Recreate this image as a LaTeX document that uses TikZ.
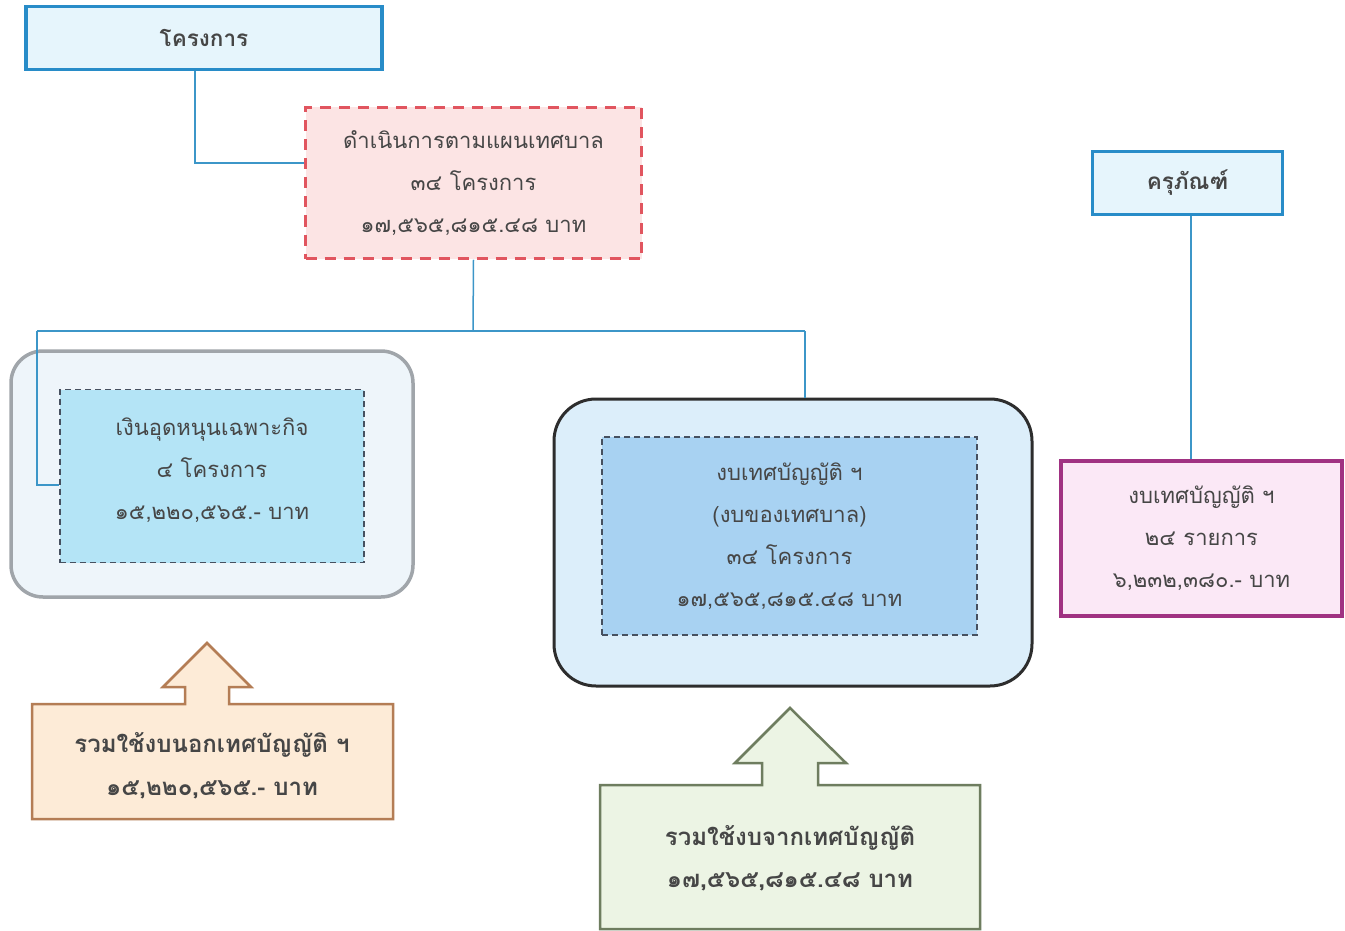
\documentclass[tikz,border=0pt]{standalone}
\usepackage{fontspec}
\newfontfamily\thai[Script=Thai]{Loma}
\definecolor{bblue}{RGB}{40,140,200}
\definecolor{lblue}{RGB}{230,245,252}
\definecolor{conn}{RGB}{60,150,200}
\definecolor{pinkb}{RGB}{225,85,95}
\definecolor{pinkf}{RGB}{252,228,228}
\definecolor{grayb}{RGB}{160,165,170}
\definecolor{grayf}{RGB}{238,245,250}
\definecolor{in1f}{RGB}{180,228,246}
\definecolor{dashb}{RGB}{70,80,95}
\definecolor{blkb}{RGB}{45,45,45}
\definecolor{out2f}{RGB}{220,238,250}
\definecolor{in2f}{RGB}{168,210,242}
\definecolor{magb}{RGB}{160,50,130}
\definecolor{magf}{RGB}{251,232,246}
\definecolor{orb}{RGB}{180,125,85}
\definecolor{orf}{RGB}{253,235,215}
\definecolor{grb}{RGB}{110,125,95}
\definecolor{grf}{RGB}{236,244,228}
\definecolor{txt}{RGB}{70,70,70}
\tikzset{
  box/.style={rectangle, inner sep=0pt, align=center, text=txt,
    font=\thai\fontsize{22}{28}\selectfont},
  titlebox/.style={box, draw=bblue, fill=lblue, line width=3.5pt,
    font=\thai\bfseries\fontsize{22.5}{26}\selectfont},
  plandash/.style={box, draw=pinkb, fill=pinkf, line width=2.5pt,
    dash pattern=on 11pt off 8pt},
  innerdash/.style={box, draw=dashb, line width=1.3pt, dash pattern=on 6pt off 4pt},
  roundbox/.style={rectangle, rounded corners=32pt, line width=3.5pt},
  conline/.style={draw=conn, line width=1.5pt},
  bigarrow/.style={line width=2.5pt, line join=miter},
  lbl/.style={inner sep=0pt, text=txt, font=\thai\bfseries\fontsize{24}{28}\selectfont}
}
\begin{document}
\begin{tikzpicture}[x=1pt,y=-1pt]
\useasboundingbox[fill=white] (0,0) rectangle (1345,931);
% top boxes
\node[titlebox, minimum width=356pt, minimum height=63pt] (proj) at (204,38) {โครงการ};
\node[plandash, minimum width=336pt, minimum height=151pt] (plan) at (473.5,183)
  {ดำเนินการตามแผนเทศบาล\\[14pt]๓๔ โครงการ\\[14pt]๑๗,๕๖๕,๘๑๕.๔๘ บาท};
\node[titlebox, minimum width=190pt, minimum height=63pt] (equip) at (1187.5,183) {ครุภัณฑ์};
% left rounded group
\node[roundbox, draw=grayb, fill=grayf, minimum width=402pt, minimum height=246pt] (out1) at (212,474) {};
\node[innerdash, fill=in1f, minimum width=304pt, minimum height=173pt] (in1) at (212,476) {};
\node[box] (in1t) at (212,470)
  {เงินอุดหนุนเฉพาะกิจ\\[14pt]๔ โครงการ\\[14pt]๑๕,๒๒๐,๕๖๕.- บาท};
% middle rounded group
\node[roundbox, rounded corners=42pt, draw=blkb, line width=3pt, fill=out2f, minimum width=478pt, minimum height=287pt] (out2) at (793,542.5) {};
\node[innerdash, fill=in2f, minimum width=375pt, minimum height=198pt] (in2) at (789.5,536)
  {งบเทศบัญญัติ ฯ\\[14pt](งบของเทศบาล)\\[14pt]๓๔ โครงการ\\[14pt]๑๗,๕๖๕,๘๑๕.๔๘ บาท};
% magenta box
\node[box, draw=magb, fill=magf, line width=4pt, minimum width=281pt, minimum height=155pt] (mag) at (1201.5,538.5)
  {งบเทศบัญญัติ ฯ\\[14pt]๒๔ รายการ\\[14pt]๖,๒๓๒,๓๘๐.- บาท};
% orange arrow box
\draw[bigarrow, draw=orb, fill=orf]
  (32,704) -- (185,704) -- (185,687) -- (163,687) -- (207,643) -- (251,687) -- (229,687) -- (229,704)
  -- (393,704) -- (393,819) -- (32,819) -- cycle;
\node[lbl] (sum1a) at (212,745) {รวมใช้งบนอกเทศบัญญัติ ฯ};
\node[lbl] (sum1b) at (212,790) {๑๕,๒๒๐,๕๖๕.- บาท};
% green arrow box
\draw[bigarrow, draw=grb, fill=grf]
  (600,785) -- (762,785) -- (762,763) -- (735,763) -- (790,708) -- (846,763) -- (818,763) -- (818,785)
  -- (980,785) -- (980,929) -- (600,929) -- cycle;
\node[lbl] (sum2a) at (790,838) {รวมใช้งบจากเทศบัญญัติ};
\node[lbl] (sum2b) at (790,882) {๑๗,๕๖๕,๘๑๕.๔๘ บาท};
% connectors
\coordinate (j1) at (195,163);
\coordinate (bus) at (473,331);
\coordinate (lx) at (37,331);
\coordinate (rx) at (805,331);
\coordinate (ly) at (37,485);
\draw[conline] (proj.south -| j1) |- (plan.west |- j1);
\draw[conline] (plan.south) -- (bus);
\draw[conline] (lx) -- (rx);
\draw[conline] (lx) -- (ly) -- (in1.west |- ly);
\draw[conline] (rx) -- (out2.north -| rx);
\draw[conline] (equip.south -| 1191,0) -- (mag.north -| 1191,0);
\end{tikzpicture}
\end{document}
